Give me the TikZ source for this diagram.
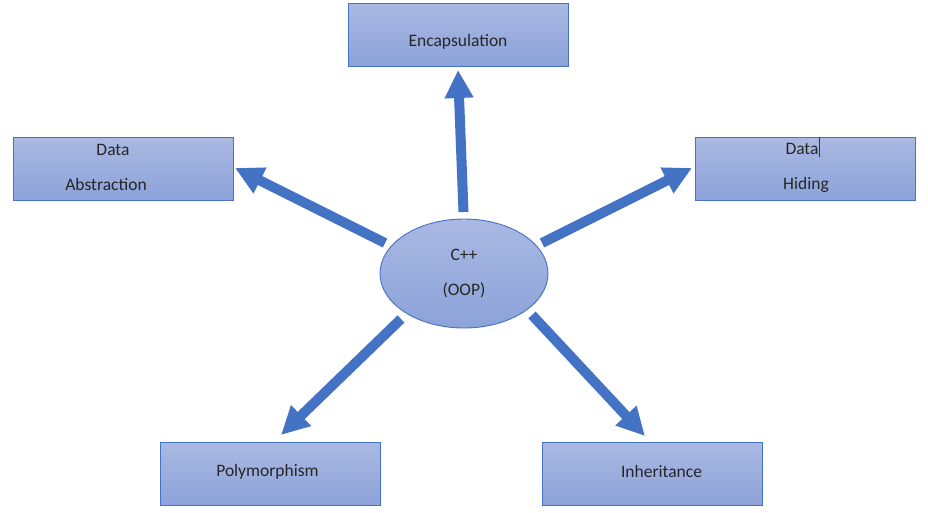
\documentclass[tikz,border=0pt]{standalone}
\usepackage{fontspec}
\setmainfont{Carlito}
\usetikzlibrary{shapes.geometric,arrows.meta}
\definecolor{arrowblue}{HTML}{4472C4}
\definecolor{filltop}{HTML}{AAB9E3}
\definecolor{fillbot}{HTML}{8CA2D9}
\newcommand{\shiftup}[2]{\raisebox{#1}[\height][\depth]{#2}}
\tikzset{
  conceptbox/.style={draw=arrowblue, line width=0.9pt, top color=filltop, bottom color=fillbot,
    minimum width=220pt, minimum height=63pt, inner sep=0pt, align=center,
    font=\fontsize{17.5}{35}\selectfont, text=black!85},
  hub/.style={ellipse, draw=arrowblue, line width=0.9pt, top color=filltop, bottom color=fillbot,
    minimum width=168pt, minimum height=109pt, inner sep=0pt, align=center,
    font=\fontsize{17.5}{35}\selectfont, text=black!85},
  bigarrow/.style={draw=arrowblue, line width=10pt,
    -{Triangle[length=28pt,width=27pt]}}
}
\begin{document}
\begin{tikzpicture}[x=1pt,y=-1pt]
\useasboundingbox[fill=white] (0,0) rectangle (928,512);
\node[conceptbox] (enc) at (458,34.5) {\shiftup{-7pt}{Encapsulation}};
\node[conceptbox] (abs) at (123,168.5) {\shiftup{1pt}{\hspace*{-20pt}Data}\\\shiftup{1pt}{\hspace*{-34pt}Abstraction}};
\node[conceptbox] (hid) at (805,168.5) {\shiftup{1pt}{\hspace*{-6pt}Data}\\\shiftup{1pt}{\hspace*{2pt}Hiding}};
\node[conceptbox] (poly) at (270,473.5) {\shiftup{2pt}{\hspace*{-5pt}Polymorphism}};
\node[conceptbox] (inh) at (652,473.5) {\shiftup{2pt}{\hspace*{19pt}Inheritance}};
\node[hub] (oop) at (464,273.5) {C++\\(OOP)};
% cursor mark
\draw[black!80, line width=0.7pt] (819,137) -- (819,157);
% arrow ends
\coordinate (t1) at (463.5,212);
\coordinate (h1) at (458,70);
\coordinate (t2) at (385,243);
\coordinate (h2) at (235,168);
\coordinate (t3) at (542,243);
\coordinate (h3) at (692,168);
\coordinate (t4) at (401,319);
\coordinate (h4) at (281,435);
\coordinate (t5) at (532,315);
\coordinate (h5) at (645,436);
\draw[bigarrow] (t1) -- (h1);
\draw[bigarrow] (t2) -- (h2);
\draw[bigarrow] (t3) -- (h3);
\draw[bigarrow] (t4) -- (h4);
\draw[bigarrow] (t5) -- (h5);
\end{tikzpicture}
\end{document}
